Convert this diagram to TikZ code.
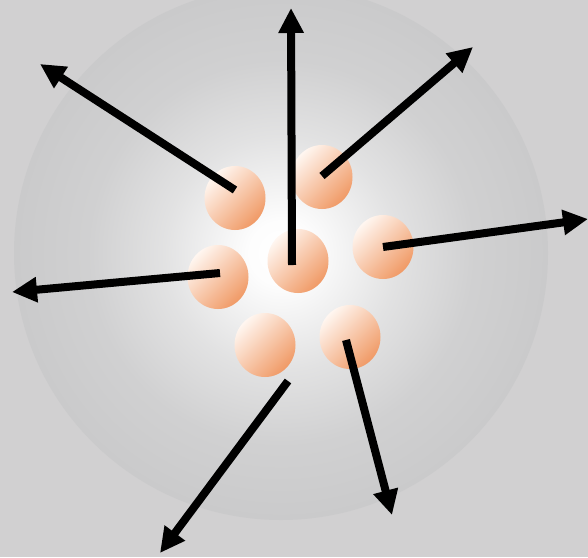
\documentclass[tikz,border=0pt]{standalone}
\usetikzlibrary{arrows.meta,shapes.geometric}
\definecolor{bg}{HTML}{D1D0D1}
\definecolor{haloedge}{HTML}{CACACB}
\definecolor{balllight}{HTML}{FFF6F0}
\definecolor{ballmid}{HTML}{F9CFB3}
\definecolor{balldark}{HTML}{F09A66}
\pgfdeclareradialshading{halo}{\pgfpoint{0bp}{0bp}}{color(0bp)=(white); color(3bp)=(white!96!haloedge); color(11bp)=(white!45!haloedge); color(18bp)=(white!12!haloedge); color(25bp)=(haloedge); color(50bp)=(haloedge)}
\tikzset{
  ball/.style={ellipse, inner sep=0pt, minimum width=61pt, minimum height=64pt,
    top color=balllight, middle color=ballmid, bottom color=balldark, shading angle=45},
  ray/.style={line width=8pt, -{Triangle[length=25pt,width=24pt]}}
}
\begin{document}
\begin{tikzpicture}[x=1pt,y=-1pt]
\fill[bg] (0,0) rectangle (588,557);
\useasboundingbox (0,0) rectangle (588,557);
\node[circle, inner sep=0pt, minimum size=534pt, shading=halo] (halo) at (281,253) {};
\node[ball] (b1) at (235,198) {};
\node[ball] (b2) at (322,177) {};
\node[ball] (b3) at (383,247) {};
\node[ball] (b4) at (218,277) {};
\node[ball] (b5) at (298,261) {};
\node[ball] (b6) at (265,345) {};
\node[ball] (b7) at (350,337) {};
\coordinate (s1) at (235,190);
\coordinate (s2) at (292,265);
\coordinate (s3) at (322,176);
\coordinate (s4) at (383,247);
\coordinate (s5) at (220,273);
\coordinate (s6) at (288,381);
\coordinate (s7) at (346,340);
\coordinate (t1) at (40,64);
\coordinate (t2) at (291,8);
\coordinate (t3) at (473,47);
\coordinate (t4) at (588,219);
\coordinate (t5) at (12,292);
\coordinate (t6) at (160,553);
\coordinate (t7) at (392,515);
\draw[ray] (s1) -- (t1);
\draw[ray] (s2) -- (t2);
\draw[ray] (s3) -- (t3);
\draw[ray] (s4) -- (t4);
\draw[ray] (s5) -- (t5);
\draw[ray] (s6) -- (t6);
\draw[ray] (s7) -- (t7);
\end{tikzpicture}
\end{document}
